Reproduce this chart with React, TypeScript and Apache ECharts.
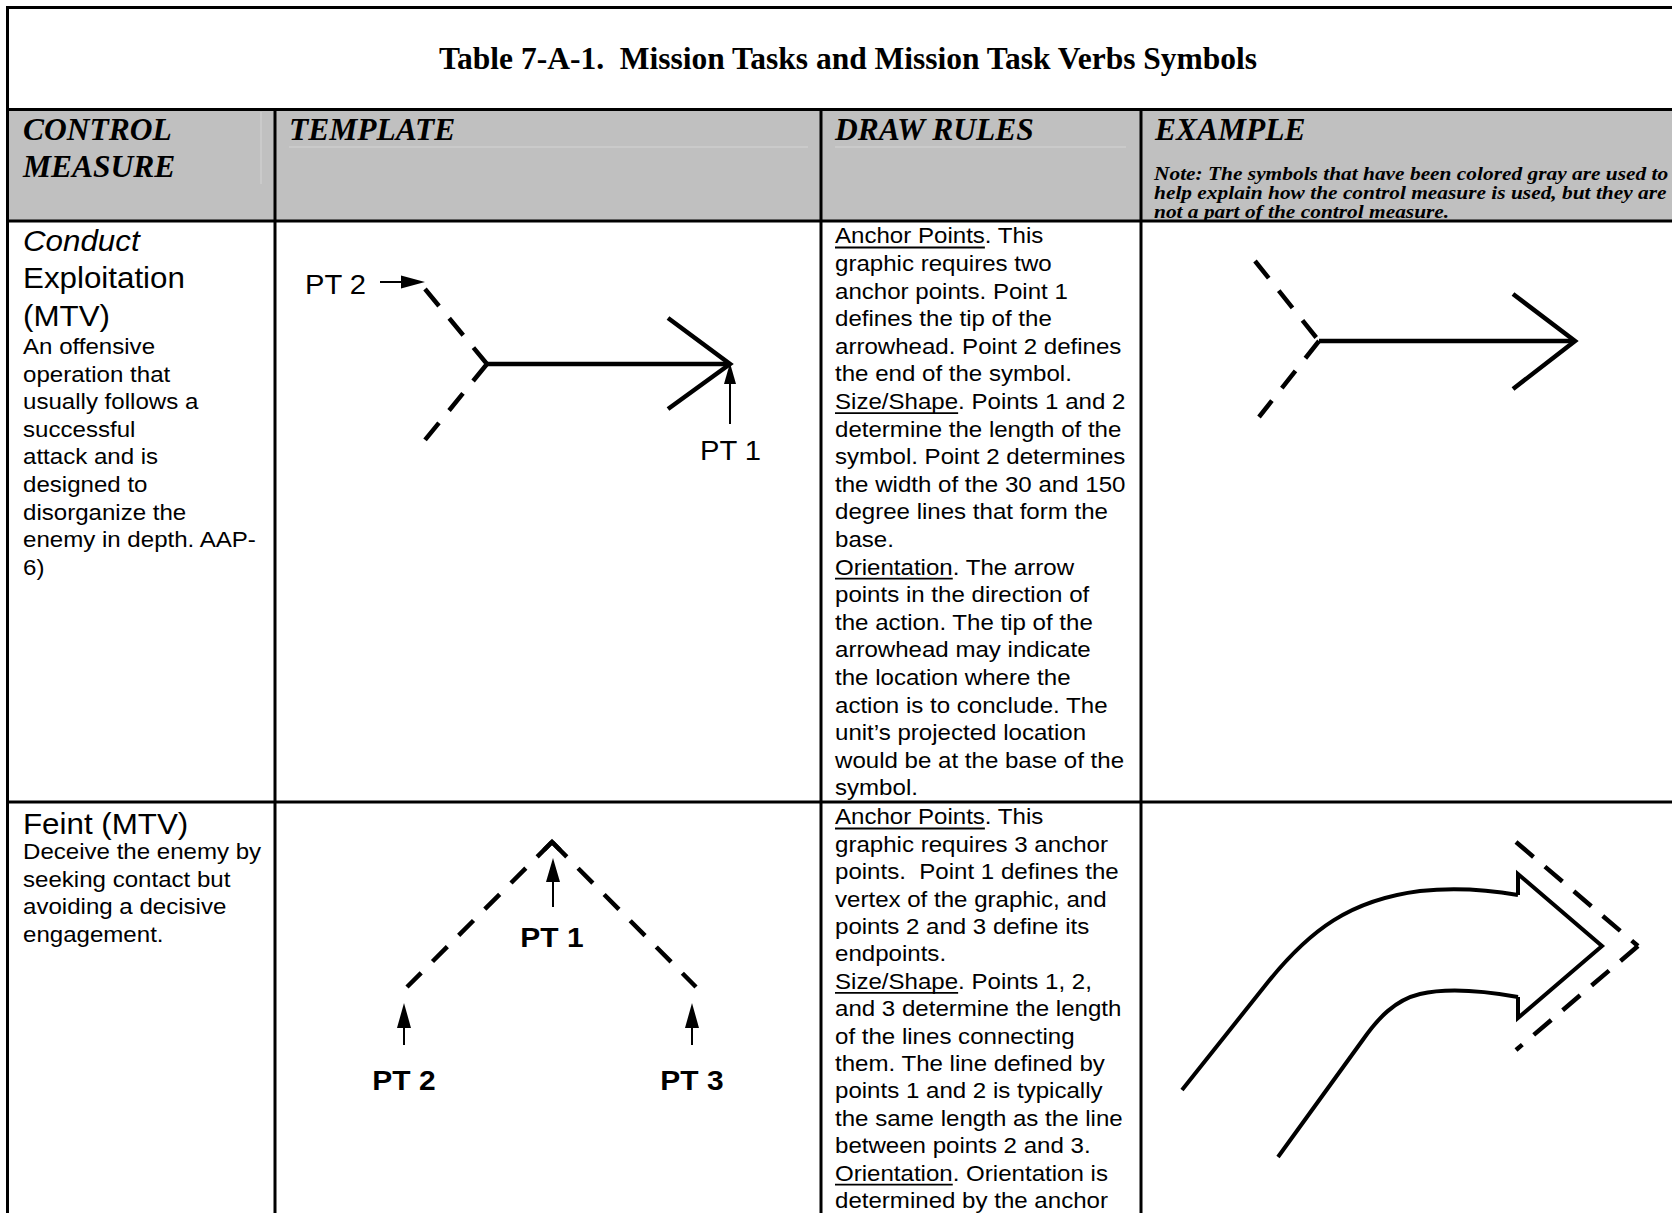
import React, { useEffect, useRef } from "react";
import * as echarts from "echarts";

// ---------- content ----------
const titleText = "Table 7-A-1.  Mission Tasks and Mission Task Verbs Symbols";
const headerControl = ["CONTROL", "MEASURE"];
const headerTemplate = "TEMPLATE";
const headerDrawRules = "DRAW RULES";
const headerExample = "EXAMPLE";
const exampleNote = [
  "Note: The symbols that have been colored gray are used to",
  "help explain how the control measure is used, but they are",
  "not a part of the control measure.",
];
const row1Name = ["Conduct", "Exploitation", "(MTV)"];
const row1Desc = [
  "An offensive",
  "operation that",
  "usually follows a",
  "successful",
  "attack and is",
  "designed to",
  "disorganize the",
  "enemy in depth. AAP-",
  "6)",
];
const row1Rules = [
  "Anchor Points. This",
  "graphic requires two",
  "anchor points. Point 1",
  "defines the tip of the",
  "arrowhead. Point 2 defines",
  "the end of the symbol.",
  "Size/Shape. Points 1 and 2",
  "determine the length of the",
  "symbol. Point 2 determines",
  "the width of the 30 and 150",
  "degree lines that form the",
  "base.",
  "Orientation. The arrow",
  "points in the direction of",
  "the action. The tip of the",
  "arrowhead may indicate",
  "the location where the",
  "action is to conclude. The",
  "unit\u2019s projected location",
  "would be at the base of the",
  "symbol.",
];
const row2Name = ["Feint (MTV)"];
const row2Desc = [
  "Deceive the enemy by",
  "seeking contact but",
  "avoiding a decisive",
  "engagement.",
];
const row2Rules = [
  "Anchor Points. This",
  "graphic requires 3 anchor",
  "points.  Point 1 defines the",
  "vertex of the graphic, and",
  "points 2 and 3 define its",
  "endpoints.",
  "Size/Shape. Points 1, 2,",
  "and 3 determine the length",
  "of the lines connecting",
  "them. The line defined by",
  "points 1 and 2 is typically",
  "the same length as the line",
  "between points 2 and 3.",
  "Orientation. Orientation is",
  "determined by the anchor",
];
const underlinedHeads = ["Anchor Points", "Size/Shape", "Orientation"];
const pointLabels = ["PT 1", "PT 2", "PT 3"];

// ---------- symbol outlines (curved arrow of the Feint example) ----------
const feintOuterD =
  "M1182 1090 L1268 982 C1310 930 1350 900 1420 891 C1460 887 1495 891 1518 895";
const feintInnerD =
  "M1518 997 C1490 992 1450 987 1420 994 C1395 1000 1378 1018 1362 1041 L1278 1157";

echarts.graphic.registerShape("feintOuter", echarts.graphic.extendPath(feintOuterD, {}));
echarts.graphic.registerShape("feintInner", echarts.graphic.extendPath(feintInnerD, {}));

const W = 1672;
const H = 1213;
const SANS = '"Liberation Sans", Arial, Helvetica, sans-serif';
const SERIF = '"Liberation Serif", "Times New Roman", Times, serif';

let measureCtx: CanvasRenderingContext2D | null = null;
function measure(text: string, font: string): number {
  if (!measureCtx) measureCtx = document.createElement("canvas").getContext("2d");
  if (!measureCtx) return text.length * 10;
  measureCtx.font = font;
  return measureCtx.measureText(text).width;
}

function buildElements(): any[] {
  const el: any[] = [];
  const txt = (
    s: string,
    x: number,
    base: number,
    size: number,
    fam: string,
    o: { w?: string; i?: boolean; sx?: number; a?: string } = {}
  ) => {
    const k = fam === SANS ? 0.3465 : 0.3375;
    el.push({
      type: "text",
      silent: true,
      x,
      y: base - k * size,
      scaleX: o.sx ?? 1,
      style: {
        text: s,
        fontSize: size,
        fontFamily: fam,
        fontWeight: o.w ?? "normal",
        fontStyle: o.i ? "italic" : "normal",
        fill: "#000",
        align: o.a ?? "left",
        textAlign: o.a ?? "left",
        verticalAlign: "middle",
        textVerticalAlign: "middle",
      },
    });
  };
  const line = (x1: number, y1: number, x2: number, y2: number, lw: number, dash?: number[], color = "#000") => {
    el.push({
      type: "line",
      silent: true,
      shape: { x1, y1, x2, y2 },
      style: { stroke: color, lineWidth: lw, lineDash: dash ?? null, lineCap: "butt" },
    });
  };
  const poly = (pts: number[][], lw: number) => {
    el.push({
      type: "polyline",
      silent: true,
      shape: { points: pts },
      style: { stroke: "#000", lineWidth: lw, fill: null, lineJoin: "miter", lineCap: "butt" },
    });
  };
  const tri = (pts: number[][]) => {
    el.push({ type: "polygon", silent: true, shape: { points: pts }, style: { fill: "#000", stroke: null } });
  };

  // background
  el.push({ type: "rect", silent: true, shape: { x: 0, y: 0, width: W, height: H }, style: { fill: "#fff" } });
  // header band
  el.push({
    type: "rect",
    silent: true,
    shape: { x: 7.5, y: 109.5, width: W, height: 221 - 109.5 },
    style: { fill: "#c0c0c0" },
  });
  // faint artefact lines inside header
  line(289, 147, 808, 147, 1, undefined, "#d4d4d4");
  line(835, 147, 1126, 147, 1, undefined, "#d4d4d4");
  line(261, 112, 261, 184, 1, undefined, "#d4d4d4");

  // grid
  const LW = 3;
  line(6, 7.5, W + 5, 7.5, LW);
  line(7.5, 6, 7.5, H + 5, LW);
  line(6, 109.5, W + 5, 109.5, LW);
  line(6, 221, W + 5, 221, LW);
  line(6, 802, W + 5, 802, LW);
  [275, 821, 1141].forEach((x) => line(x, 108, x, H + 5, LW));

  // title
  txt(titleText, 848, 69, 31.5, SERIF, { w: "bold", a: "center" });

  // headers
  txt(headerControl[0], 23, 140, 31.5, SERIF, { w: "bold", i: true });
  txt(headerControl[1], 23, 177, 31.5, SERIF, { w: "bold", i: true });
  txt(headerTemplate, 289, 140, 31.5, SERIF, { w: "bold", i: true });
  txt(headerDrawRules, 835, 140, 31.5, SERIF, { w: "bold", i: true });
  txt(headerExample, 1155, 140, 31.5, SERIF, { w: "bold", i: true });
  exampleNote.forEach((s, i) => txt(s, 1154, 180 + i * 19, 19, SERIF, { w: "bold", i: true, sx: 1.126 }));

  // body text
  const BODY = 22.5;
  const BSX = 1.07;
  const LH = 27.6;
  const BIG = 29;
  const BIGSX = 1.08;

  row1Name.forEach((s, i) => txt(s, 23, 251 + i * 37.4, BIG, SANS, { i: i === 0, sx: BIGSX }));
  row1Desc.forEach((s, i) => txt(s, 23, 354 + i * LH, BODY, SANS, { sx: BSX }));
  row2Name.forEach((s, i) => txt(s, 23, 834 + i * 37.4, BIG, SANS, { sx: BIGSX }));
  row2Desc.forEach((s, i) => txt(s, 23, 859 + i * LH, BODY, SANS, { sx: BSX }));

  const rules = (lines: string[], base0: number, lh: number) => {
    lines.forEach((s, i) => {
      const b = base0 + i * lh;
      txt(s, 835, b, BODY, SANS, { sx: BSX });
      const head = underlinedHeads.find((h) => s.startsWith(h));
      if (head) {
        const w = measure(head, `${BODY}px ${SANS}`) * BSX;
        line(835, b + 4, 835 + w, b + 4, 1.8);
      }
    });
  };
  rules(row1Rules, 243.5, LH);
  rules(row2Rules, 824.5, 27.4);

  // ---- template, row 1 (Conduct Exploitation) ----
  const D1 = [22, 16];
  line(425, 289, 487, 364, 4.5, D1);
  line(487, 364, 425, 440, 4.5, D1);
  line(487, 364, 730, 364, 4.5);
  poly([[668, 318], [730, 364], [668, 409]], 4.5);
  // PT 1 pointer
  line(730, 424, 730, 380, 2);
  tri([[730, 363], [724, 384], [736, 384]]);
  // PT 2 pointer
  line(380, 282, 403, 282, 2);
  tri([[425, 282], [401, 275.5], [401, 288.5]]);
  txt(pointLabels[1], 305, 294, 27, SANS, { sx: 1.08 });
  txt(pointLabels[0], 700, 460, 27, SANS, { sx: 1.08 });

  // ---- example, row 1 ----
  line(1255, 261, 1319, 341, 4.5, D1);
  line(1319, 341, 1259, 417, 4.5, D1);
  line(1319, 341, 1575, 341, 4.5);
  poly([[1513, 294], [1575, 341], [1513, 389]], 4.5);

  // ---- template, row 2 (Feint) ----
  const D2 = [21, 16];
  line(552, 842, 407, 987, 4.5, D2);
  line(552, 842, 696, 987, 4.5, D2);
  poly([[544, 850], [552, 842], [560, 850]], 4.5);
  // pointers
  line(553, 907, 553, 878, 2);
  tri([[553, 858], [546, 882], [560, 882]]);
  line(404, 1045, 404, 1024, 2);
  tri([[404, 1003], [397, 1028], [411, 1028]]);
  line(692, 1045, 692, 1024, 2);
  tri([[692, 1003], [685, 1028], [699, 1028]]);
  txt(pointLabels[0], 552, 947, 28, SANS, { w: "bold", sx: 1.07, a: "center" });
  txt(pointLabels[1], 404, 1090, 28, SANS, { w: "bold", sx: 1.07, a: "center" });
  txt(pointLabels[2], 692, 1090, 28, SANS, { w: "bold", sx: 1.07, a: "center" });

  // ---- example, row 2 ----
  el.push({
    type: "feintOuter",
    silent: true,
    style: { stroke: "#000", lineWidth: 4, fill: "none", lineJoin: "miter" },
  });
  el.push({
    type: "feintInner",
    silent: true,
    style: { stroke: "#000", lineWidth: 4, fill: "none", lineJoin: "miter" },
  });
  poly([[1518, 895], [1518, 874], [1602, 946], [1518, 1018], [1518, 997]], 4);
  const D3 = [23, 15];
  line(1516, 842, 1638, 946, 4.5, D3);
  line(1638, 946, 1516, 1050, 4.5, D3);

  return el;
}

export default function App() {
  const ref = useRef<HTMLDivElement>(null);
  useEffect(() => {
    document.body.style.margin = "0";
    document.body.style.overflow = "hidden";
    if (!ref.current) return;
    const chart = echarts.init(ref.current, null, { renderer: "svg" });
    chart.setOption({
      animation: false,
      backgroundColor: "#ffffff",
      graphic: { elements: buildElements() },
    });
    return () => chart.dispose();
  }, []);
  return <div ref={ref} style={{ width: W, height: H }} />;
}
